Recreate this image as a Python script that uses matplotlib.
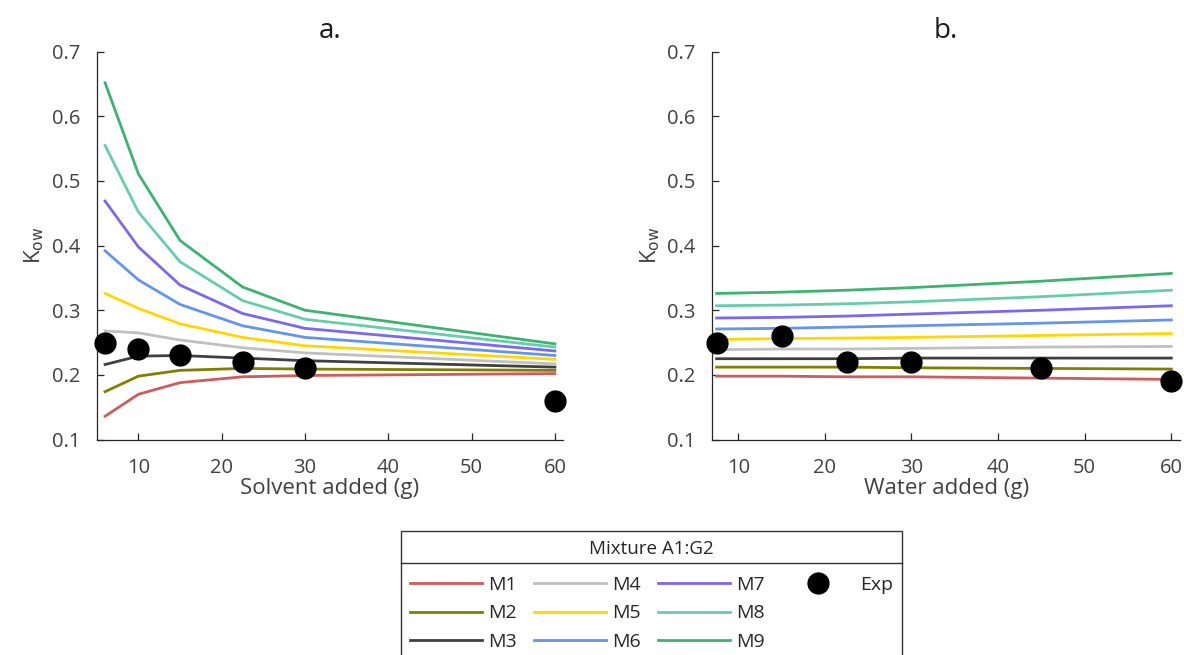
import numpy as np
import matplotlib
matplotlib.use("Agg")
import matplotlib.pyplot as plt
from matplotlib.lines import Line2D
from matplotlib.transforms import IdentityTransform

plt.rcParams['font.family'] = ['Open Sans', 'DejaVu Sans']

names = ['M1', 'M2', 'M3', 'M4', 'M5', 'M6', 'M7', 'M8', 'M9']
colors = ['#cd5c5c', '#808000', '#404040', '#c0c0c0', '#ffd700',
          '#6495ed', '#7b68ee', '#66cdaa', '#3cb371']

# a. solvent added
xa = [6, 10, 15, 22.5, 30, 60]
ka = [
    [0.136, 0.170, 0.188, 0.197, 0.199, 0.202],
    [0.174, 0.198, 0.207, 0.210, 0.209, 0.207],
    [0.216, 0.229, 0.230, 0.226, 0.222, 0.212],
    [0.268, 0.265, 0.254, 0.242, 0.234, 0.217],
    [0.326, 0.303, 0.279, 0.258, 0.245, 0.224],
    [0.392, 0.347, 0.309, 0.276, 0.258, 0.230],
    [0.469, 0.398, 0.339, 0.295, 0.272, 0.237],
    [0.555, 0.452, 0.375, 0.315, 0.286, 0.243],
    [0.652, 0.511, 0.408, 0.336, 0.300, 0.248],
]
exp_a = [0.25, 0.24, 0.23, 0.22, 0.21, 0.16]

# b. water added
xb = [7.5, 15, 22.5, 30, 45, 60]
kb = [
    [0.198, 0.198, 0.197, 0.197, 0.195, 0.193],
    [0.212, 0.212, 0.212, 0.211, 0.210, 0.209],
    [0.225, 0.225, 0.225, 0.226, 0.226, 0.226],
    [0.239, 0.240, 0.240, 0.241, 0.243, 0.244],
    [0.255, 0.256, 0.257, 0.258, 0.261, 0.264],
    [0.271, 0.272, 0.274, 0.276, 0.280, 0.285],
    [0.288, 0.289, 0.291, 0.294, 0.300, 0.307],
    [0.307, 0.308, 0.310, 0.313, 0.321, 0.331],
    [0.326, 0.328, 0.331, 0.335, 0.345, 0.357],
]
exp_b = [0.25, 0.26, 0.22, 0.22, 0.21, 0.19]

txt = '#404040'
fig = plt.figure(figsize=(11.84, 6.55), dpi=100)
ax1 = fig.add_axes([0.0817, 0.329, 0.394, 0.592])
ax2 = fig.add_axes([0.6016, 0.329, 0.395, 0.592])

panels = [(ax1, xa, ka, exp_a, 'a.', 'Solvent added (g)', 5),
          (ax2, xb, kb, exp_b, 'b.', 'Water added (g)', 7)]
for ax, x, k, e, t, xl, x0 in panels:
    for i in range(len(names)):
        ax.plot(x, k[i], color=colors[i], lw=2, label=names[i])
    ax.plot(x, e, 'o', color='black', ms=15, clip_on=False, zorder=5, label='Exp')
    ax.set_xlim(x0, 61)
    ax.set_ylim(0.1, 0.7)
    ax.set_xticks([10, 20, 30, 40, 50, 60])
    ax.set_yticks([0.1, 0.2, 0.3, 0.4, 0.5, 0.6, 0.7])
    ax.spines['top'].set_visible(False)
    ax.spines['right'].set_visible(False)
    for s in ['left', 'bottom']:
        ax.spines[s].set_color('#262626')
        ax.spines[s].set_linewidth(0.9)
    ax.tick_params(direction='in', length=5, width=0.9, colors='#262626',
                   labelcolor=txt, labelsize=14.5)
    ax.tick_params(axis='x', pad=13)
    ax.tick_params(axis='y', pad=12)
    ax.set_title(t, fontsize=20, color='#1a1a1a', pad=10)
    ax.set_xlabel(xl, fontsize=16, color=txt, labelpad=0)
    ax.set_ylabel(r'K$_{\mathrm{ow}}$', fontsize=16, color=txt, labelpad=4)

h, l = ax1.get_legend_handles_labels()
blank = Line2D([], [], color='none')
h = h + [blank, blank]
l = l + ['', '']
leg = fig.legend(h, l, loc='upper center', bbox_to_anchor=(0.5503, 1 - 531 / 655),
                 borderaxespad=0,
                 ncol=4, fontsize=14, title='Mixture A1:G2', title_fontsize=13.5,
                 handlelength=3.7, handletextpad=0.3, columnspacing=0.9,
                 labelspacing=0.55, borderpad=0.45, fancybox=False,
                 edgecolor='#333333', framealpha=1)
leg.get_frame().set_linewidth(1)
leg._legend_box.sep = 13
for tx in leg.get_texts():
    tx.set_color('#262626')
leg.get_title().set_color('#262626')

fig.canvas.draw()
bb = leg.get_window_extent()
tb = leg.get_title().get_window_extent()
ysep = tb.y0 - 5
fig.add_artist(Line2D([bb.x0, bb.x1], [ysep, ysep], transform=IdentityTransform(),
                      color='#333333', lw=1, zorder=10))

fig.savefig('out.png', dpi=100)
